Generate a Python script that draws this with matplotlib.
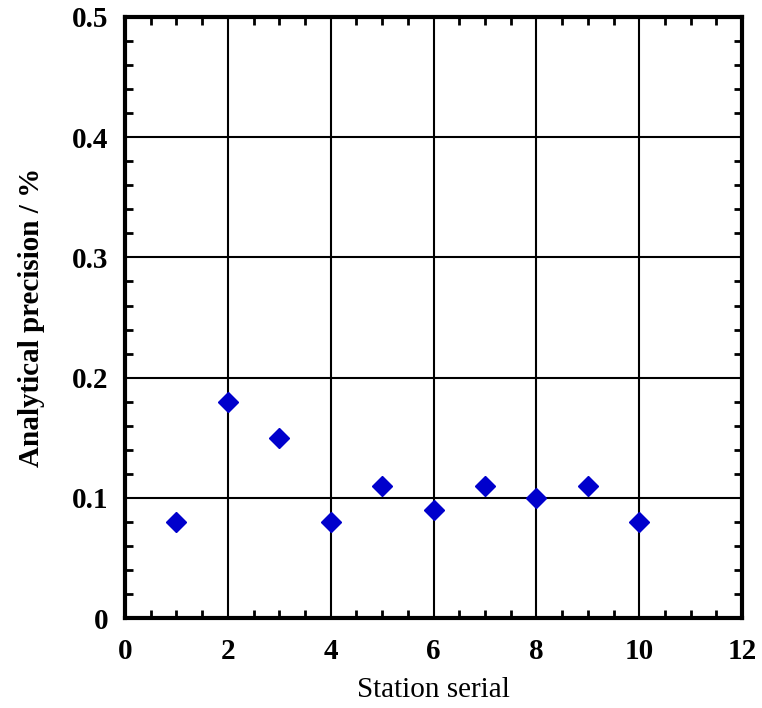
import matplotlib
matplotlib.use('Agg')
import matplotlib.pyplot as plt
from matplotlib.ticker import MultipleLocator

station = [1, 2, 3, 4, 5, 6, 7, 8, 9, 10]
precision = [0.08, 0.18, 0.15, 0.08, 0.11, 0.09, 0.11, 0.10, 0.11, 0.08]

plt.rcParams['font.family'] = 'Liberation Serif'

fig = plt.figure(figsize=(7.62, 7.08), dpi=100)
ax = fig.add_axes([0.164, 0.127, 0.81, 0.849])

ax.grid(True, color='black', linewidth=1.5)
ax.set_axisbelow(True)
ax.plot(station, precision, linestyle='none', marker='D', markersize=10,
        color='#0000CC', zorder=3)

ax.set_xlim(0, 12)
ax.set_ylim(0, 0.5)
ax.xaxis.set_major_locator(MultipleLocator(2))
ax.xaxis.set_minor_locator(MultipleLocator(0.5))
ax.yaxis.set_minor_locator(MultipleLocator(0.02))
ax.set_yticks([0, 0.1, 0.2, 0.3, 0.4, 0.5])
ax.set_yticklabels(['0', '0.1', '0.2', '0.3', '0.4', '0.5'])

ax.tick_params(which='both', direction='in', top=True, right=True, width=2)
ax.tick_params(which='major', length=0, labelsize=21)
ax.tick_params(axis='y', which='major', pad=12)
ax.tick_params(axis='x', which='major', pad=14)
ax.tick_params(which='minor', length=6)
for lab in ax.get_xticklabels() + ax.get_yticklabels():
    lab.set_fontweight('bold')
for sp in ax.spines.values():
    sp.set_linewidth(3)

ax.set_xlabel('Station serial', fontsize=21, labelpad=9)
ax.set_ylabel('Analytical precision / %', fontsize=21, fontweight='bold', labelpad=19)

fig.savefig('out.png', dpi=100)
